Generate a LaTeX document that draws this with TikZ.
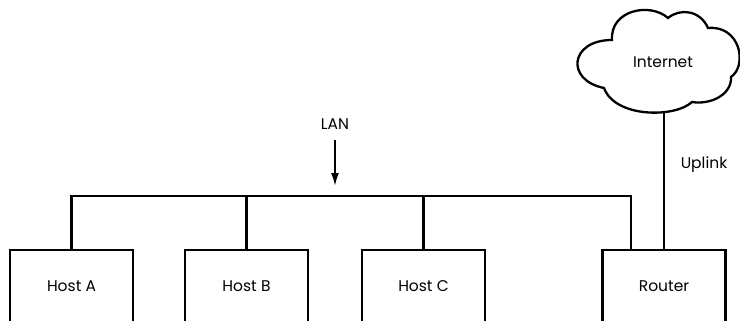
\documentclass[tikz,border=0pt]{standalone}
\usepackage{fontspec}
\setmainfont{Poppins}
\usetikzlibrary{arrows.meta}
\begin{document}
\begin{tikzpicture}[x=1pt,y=-1pt,
  line width=2.3pt,
  lbl/.style={font=\fontsize{15.5}{18}\selectfont, inner sep=0pt},
  hostbox/.style={draw, line width=2.3pt, minimum width=123pt, minimum height=72pt, inner sep=0pt, anchor=north, font=\fontsize{15.5}{18}\selectfont},
  wire/.style={line width=2.3pt},
]
\useasboundingbox (0,0) rectangle (740,321);
% boxes
\node[hostbox] (hostA) at (71.5,249) {Host A};
\node[hostbox] (hostB) at (246.5,249) {Host B};
\node[hostbox] (hostC) at (423.5,249) {Host C};
\node[hostbox] (router) at (664,249) {Router};
% bus
\coordinate (busL) at (71.5,196);
\coordinate (busR) at (631,196);
\coordinate (rin) at (631,249);
\draw[wire, line join=miter] (hostA.north) -- (busL) -- (busR) -- (rin);
\draw[wire] (hostB.north) -- (hostB.north |- busL);
\draw[wire] (hostC.north) -- (hostC.north |- busL);
% LAN label and arrow
\node[lbl] (lan) at (335,124) {LAN};
\coordinate (lanTip) at (335,186);
\draw[line width=2pt, -{Latex[length=13pt,width=8pt]}] (335,140) -- (lanTip);
% cloud
\draw[wire, line join=miter, fill=white]
  (612,40) .. controls (610,10) and (650,2) .. (668,18)
  .. controls (680,8) and (700,10) .. (708,28)
  .. controls (740,25) and (748,65) .. (731,77)
  .. controls (732,95) and (710,105) .. (692,102)
  .. controls (675,118) and (615,118) .. (604,88)
  .. controls (565,80) and (570,40) .. (612,40) -- cycle;
\node[lbl] (internet) at (663,62) {Internet};
\coordinate (cloudB) at (664,112);
% uplink
\draw[wire] (cloudB) -- (router.north);
\node[lbl] (uplink) at (704,165) {Uplink};
\end{tikzpicture}
\end{document}
